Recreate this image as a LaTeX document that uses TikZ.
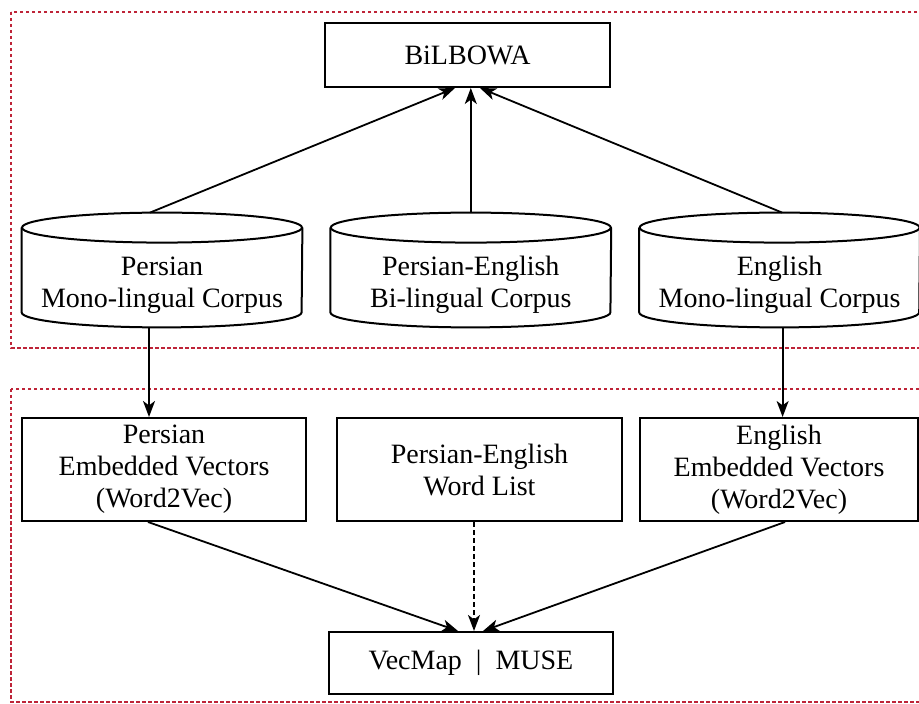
\documentclass[tikz,border=0pt]{standalone}
\usepackage{fontspec}
\setmainfont{Liberation Serif}
\usepackage{tikz}
\usetikzlibrary{arrows.meta,positioning}
\definecolor{framered}{RGB}{190,36,56}
\tikzset{%
	block/.style    = {draw, rectangle, line width=1pt, minimum width=142pt, minimum height=51.5pt, align=center, font=\fontsize{14}{16}\selectfont},
	corpus/.style   = {rectangle, minimum width=140pt, minimum height=42pt, align=center, font=\fontsize{14}{16}\selectfont}, % body of a database
	arrow/.style    = {line width=0.9pt, -{Stealth[length=8pt,width=6pt,inset=2.2pt]}},
	hint/.style     = {arrow, dash pattern=on 2.5pt off 1.5pt}, % dotted arrow
	region/.style   = {draw=framered, line width=1.1pt, dash pattern=on 1.75pt off 1.25pt},
}
\begin{document}
\begin{tikzpicture}[x=0.5pt,y=-0.5pt]
	\useasboundingbox (0,0) rectangle (919,704);
	\clip (0,0) rectangle (919,704);
	% the two groups
	\draw[region] (11,12) rectangle (935,348);
	\draw[region] (11,389) rectangle (935,702);

	\node[block, minimum width=142.5pt, minimum height=32pt] (bilbowa) at (467.5,55) {BiLBOWA};
	\node[corpus] (pmono) at (162,285) {Persian\\Mono-lingual Corpus};
	\node[corpus, right=14pt of pmono] (pebi) {Persian-English\\Bi-lingual Corpus};
	\node[corpus, right=14pt of pebi] (emono) {English\\Mono-lingual Corpus};
	% cylinders
	\foreach \c in {pmono,pebi,emono}{
		\draw[line width=1pt] ([yshift=7.5pt]\c.north) ellipse [x radius=70pt, y radius=7.5pt];
		\draw[line width=1pt] ([yshift=7.5pt]\c.north west) -- ([yshift=7.5pt]\c.south west)
			arc[start angle=180, end angle=360, x radius=70pt, y radius=7.5pt] -- ([yshift=7.5pt]\c.north east);
	}

	\node[block] (pvec) at (164,469.5) {Persian\\Embedded Vectors\\(Word2Vec)};
	\node[block, minimum width=142.5pt, right=14.5pt of pvec] (pelist) {Persian-English\\Word List};
	\node[block, minimum width=139pt] (evec) at (779,469.5) {English\\Embedded Vectors\\(Word2Vec)};
	\node[block, minimum height=31pt] (vecmap) at (471,663) {VecMap~~|~~MUSE};

	\draw[arrow] ([xshift=-6pt,yshift=15pt]pmono.north) -- ([xshift=-6.25pt]bilbowa.south);
	\draw[arrow] ([yshift=15pt]pebi.north) -- (pebi.north |- bilbowa.south);
	\draw[arrow] ([xshift=1.25pt,yshift=15pt]emono.north) -- ([xshift=6.25pt]bilbowa.south);

	\draw[arrow] ([xshift=-6.5pt]pmono.south) -- ([xshift=-6.5pt]pmono.south |- pvec.north);
	\draw[arrow] ([xshift=1.5pt]emono.south) -- ([xshift=1.5pt]emono.south |- evec.north);

	\draw[arrow] ([xshift=-8pt]pvec.south) -- ([xshift=-6.5pt]vecmap.north);
	\draw[hint] ([xshift=-2.75pt]pelist.south) -- ([xshift=-2.75pt]pelist.south |- vecmap.north);
	\draw[arrow] ([xshift=3pt]evec.south) -- ([xshift=6pt]vecmap.north);
\end{tikzpicture}
\end{document}
